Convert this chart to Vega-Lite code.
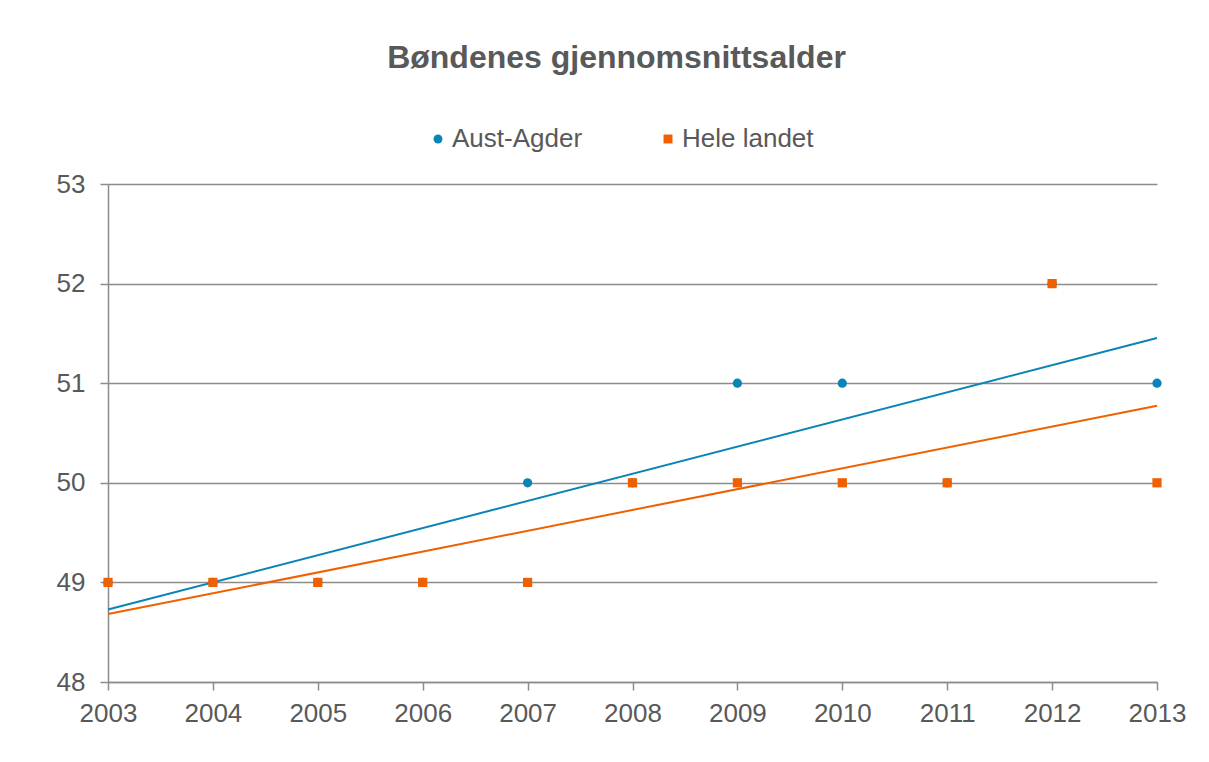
{
  "$schema": "https://vega.github.io/schema/vega-lite/v6.json",
  "width": 1049,
  "height": 498,
  "autosize": {"type": "none"},
  "padding": {"left": 108, "top": 184, "right": 52, "bottom": 80},
  "background": "white",
  "config": {
    "view": {"stroke": null},
    "font": "Liberation Sans"
  },
  "title": {
    "text": "Bøndenes gjennomsnittsalder",
    "fontSize": 32,
    "fontWeight": "bold",
    "color": "#595959",
    "anchor": "middle",
    "frame": "group",
    "dx": -16,
    "offset": 51,
    "font": "Liberation Sans"
  },
  "data": {
    "values": [
      {"Year": 2003, "Series": "Aust-Agder", "Value": 49},
      {"Year": 2004, "Series": "Aust-Agder", "Value": 49},
      {"Year": 2005, "Series": "Aust-Agder", "Value": 49},
      {"Year": 2006, "Series": "Aust-Agder", "Value": 49},
      {"Year": 2007, "Series": "Aust-Agder", "Value": 50},
      {"Year": 2008, "Series": "Aust-Agder", "Value": 50},
      {"Year": 2009, "Series": "Aust-Agder", "Value": 51},
      {"Year": 2010, "Series": "Aust-Agder", "Value": 51},
      {"Year": 2011, "Series": "Aust-Agder", "Value": 50},
      {"Year": 2012, "Series": "Aust-Agder", "Value": 52},
      {"Year": 2013, "Series": "Aust-Agder", "Value": 51},
      {"Year": 2003, "Series": "Hele landet", "Value": 49},
      {"Year": 2004, "Series": "Hele landet", "Value": 49},
      {"Year": 2005, "Series": "Hele landet", "Value": 49},
      {"Year": 2006, "Series": "Hele landet", "Value": 49},
      {"Year": 2007, "Series": "Hele landet", "Value": 49},
      {"Year": 2008, "Series": "Hele landet", "Value": 50},
      {"Year": 2009, "Series": "Hele landet", "Value": 50},
      {"Year": 2010, "Series": "Hele landet", "Value": 50},
      {"Year": 2011, "Series": "Hele landet", "Value": 50},
      {"Year": 2012, "Series": "Hele landet", "Value": 52},
      {"Year": 2013, "Series": "Hele landet", "Value": 50}
    ]
  },
  "encoding": {
    "x": {
      "field": "Year",
      "type": "quantitative",
      "scale": {"domain": [2003, 2013], "zero": false, "nice": false},
      "axis": {
        "title": null,
        "format": "d",
        "values": [2003, 2004, 2005, 2006, 2007, 2008, 2009, 2010, 2011, 2012, 2013],
        "grid": false,
        "labelFlush": false,
        "labelOverlap": false,
        "domainColor": "#8c8c8c",
        "domainWidth": 1.5,
        "tickColor": "#8c8c8c",
        "tickWidth": 1.5,
        "tickSize": 8,
        "labelFontSize": 26,
        "labelColor": "#595959",
        "labelPadding": 10,
        "labelFont": "Liberation Sans"
      }
    },
    "y": {
      "field": "Value",
      "type": "quantitative",
      "scale": {"domain": [48, 53], "zero": false, "nice": false},
      "axis": {
        "title": null,
        "values": [48, 49, 50, 51, 52, 53],
        "grid": true,
        "labelFlush": false,
        "labelOverlap": false,
        "gridColor": "#8c8c8c",
        "gridWidth": 1.5,
        "domainColor": "#8c8c8c",
        "domainWidth": 1.5,
        "tickColor": "#8c8c8c",
        "tickWidth": 1.5,
        "tickSize": 8,
        "labelFontSize": 26,
        "labelColor": "#595959",
        "labelPadding": 15,
        "labelFont": "Liberation Sans"
      }
    },
    "color": {
      "field": "Series",
      "type": "nominal",
      "scale": {"domain": ["Aust-Agder", "Hele landet"], "range": ["#0A84B6", "#F06000"]},
      "legend": {
        "title": null,
        "orient": "none",
        "direction": "horizontal",
        "legendX": 317,
        "legendY": -58,
        "labelFontSize": 26,
        "labelColor": "#595959",
        "labelFont": "Liberation Sans",
        "symbolSize": 80,
        "labelOffset": 1,
        "columnPadding": 72,
        "symbolStrokeWidth": 0
      }
    }
  },
  "layer": [
    {
      "transform": [
        {"regression": "Value", "on": "Year", "groupby": ["Series"], "extent": [2003, 2013]}
      ],
      "mark": {"type": "line", "strokeWidth": 2}
    },
    {
      "mark": {"type": "point", "filled": true, "opacity": 1, "size": 85},
      "encoding": {
        "shape": {
          "field": "Series",
          "type": "nominal",
          "scale": {"domain": ["Aust-Agder", "Hele landet"], "range": ["circle", "square"]}
        }
      }
    }
  ]
}
